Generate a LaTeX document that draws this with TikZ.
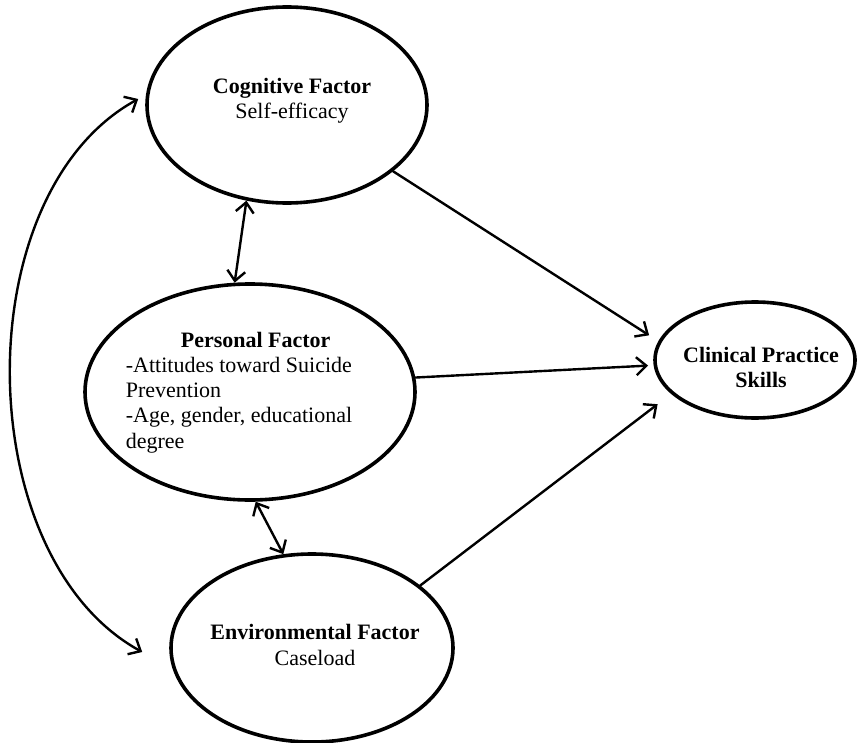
\documentclass[tikz,border=0pt]{standalone}
\usepackage{fontspec}
\setmainfont{Liberation Serif}
\usetikzlibrary{shapes.geometric,arrows.meta}
\begin{document}
\begin{tikzpicture}[x=1pt,y=-1pt,
  ell/.style={ellipse,draw,line width=3.6pt,inner sep=0pt},
  txt/.style={font=\fontsize{22}{25.3}\selectfont,inner sep=0pt},
  arr/.style={line width=2.4pt,line cap=round,-{Straight Barb[length=10pt,width=18pt]}},
  dbl/.style={line width=2.4pt,line cap=round,{Straight Barb[length=10pt,width=18pt]}-{Straight Barb[length=10pt,width=18pt]}}]
\useasboundingbox (0,0) rectangle (858,743);
\node[ell,minimum width=280pt,minimum height=196pt,
  label={[txt,align=center,xshift=5pt,yshift=4.6pt]center:{\textbf{Cognitive Factor}\\Self-efficacy}}] (cog) at (287,105) {};
\node[ell,minimum width=330pt,minimum height=216pt,
  label={[txt,align=left,xshift=-11pt,yshift=-0.4pt]center:{\hspace*{55pt}\textbf{Personal Factor}\\-Attitudes toward Suicide\\Prevention\\-Age, gender, educational\\degree}}] (per) at (250,392) {};
\node[ell,minimum width=282pt,minimum height=188pt,
  label={[txt,align=center,xshift=3pt,yshift=3pt]center:{\textbf{Environmental Factor}\\Caseload}}] (env) at (312,648) {};
\node[ell,minimum width=200pt,minimum height=116pt,
  label={[txt,align=center,xshift=6pt,yshift=-7.5pt]center:{\textbf{Clinical Practice}\\\textbf{Skills}}}] (clin) at (755,360) {};
\draw[arr,shorten >=11pt] (cog.-32.9) -- (clin.169.9);
\draw[arr,shorten >=5.5pt] (per.5.95) -- (clin.183.3);
\draw[arr,shorten >=17pt] (env.30.9) -- (clin.202.5);
\draw[dbl] (cog.247.6) -- (per.98.9);
\draw[dbl] (per.273.7) -- (env.107.5);
\draw[dbl] ([xshift=-7pt,yshift=6pt]cog.west) .. controls +(-173,95) and +(-173,-95) .. ([xshift=-27pt,yshift=-4pt]env.west);
\end{tikzpicture}
\end{document}
